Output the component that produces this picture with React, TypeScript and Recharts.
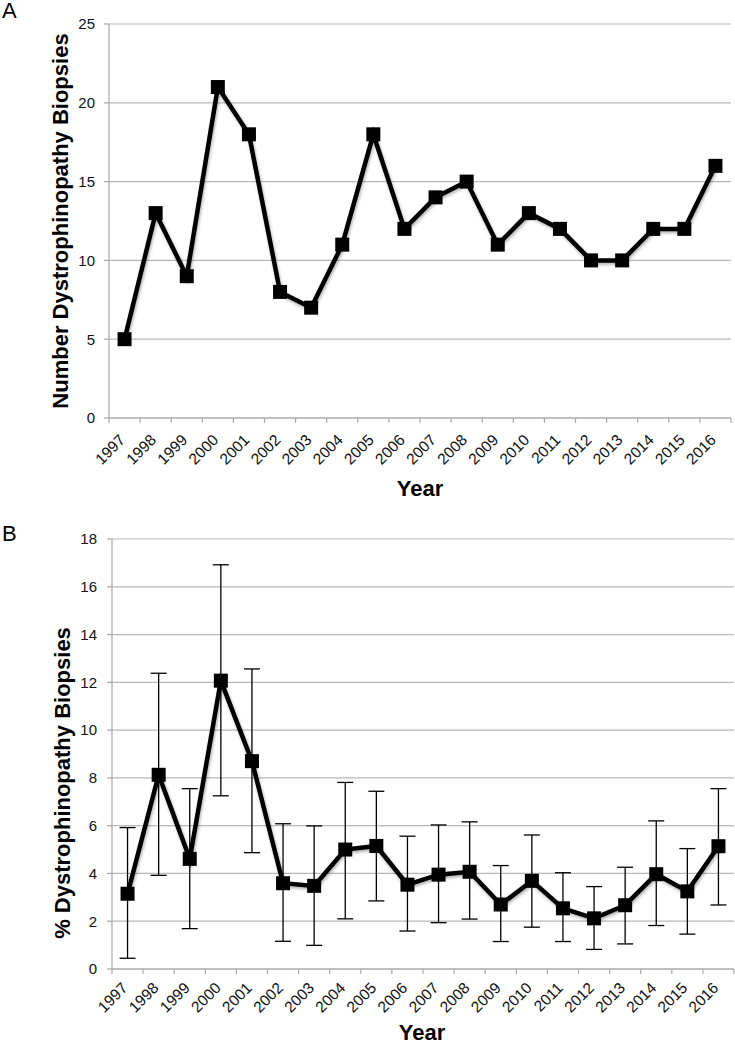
import React from 'react';
import { LineChart, Line, XAxis, YAxis, CartesianGrid, ErrorBar, Label } from 'recharts';

const years = ['1997', '1998', '1999', '2000', '2001', '2002', '2003', '2004', '2005', '2006', '2007', '2008', '2009', '2010', '2011', '2012', '2013', '2014', '2015', '2016'];
const countValues = [5, 13, 9, 21, 18, 8, 7, 11, 18, 12, 14, 15, 11, 13, 12, 10, 10, 12, 12, 16];
const percentValues = [3.15, 8.13, 4.61, 12.07, 8.7, 3.59, 3.48, 5.0, 5.15, 3.53, 3.95, 4.07, 2.7, 3.69, 2.54, 2.12, 2.67, 3.97, 3.25, 5.14];
const percentLow = [0.45, 3.92, 1.69, 7.25, 4.87, 1.16, 0.99, 2.1, 2.85, 1.59, 1.94, 2.09, 1.15, 1.75, 1.15, 0.82, 1.05, 1.82, 1.46, 2.68];
const percentHigh = [5.92, 12.38, 7.55, 16.92, 12.56, 6.08, 5.99, 7.81, 7.44, 5.56, 6.03, 6.16, 4.33, 5.61, 4.03, 3.45, 4.26, 6.2, 5.04, 7.55];
const countTicks = [0, 5, 10, 15, 20, 25];
const percentTicks = [0, 2, 4, 6, 8, 10, 12, 14, 16, 18];

const countData = years.map((y, i) => ({ year: y, value: countValues[i] }));
const percentData = years.map((y, i) => ({
  year: y,
  value: percentValues[i],
  err: [percentValues[i] - percentLow[i], percentHigh[i] - percentValues[i]],
}));

const FONT = '"Liberation Sans", Arial, Helvetica, sans-serif';
const AXIS = '#a8a8a8';
const GRID = '#b8b8b8';

const makeXTick = (dx: number, dy: number) => (props: any) => {
  const { x, y, payload, index } = props;
  const half = payload && payload.offset ? payload.offset : 15.6;
  const last = index === years.length - 1;
  const tx = x + dx;
  const ty = y + dy;
  return (
    <g>
      <line x1={x - half} x2={x - half} y1={y} y2={y + 5} stroke={AXIS} strokeWidth={1.2} />
      {last && <line x1={x + half} x2={x + half} y1={y} y2={y + 5} stroke={AXIS} strokeWidth={1.2} />}
      <text x={tx} y={ty} transform={`rotate(-45 ${tx} ${ty})`} textAnchor="end" fontSize={15.5} fontFamily={FONT} fill="#111">
        {payload.value}
      </text>
    </g>
  );
};

const Square = (p: any) => {
  if (p.cx == null || p.cy == null) return <g key={p.index} />;
  return <rect key={p.index} x={p.cx - 7} y={p.cy - 7} width={14} height={14} fill="#000" />;
};

const yLabel = (text: string, cx: number, cy: number) => () => (
  <text x={cx} y={cy} transform={`rotate(-90 ${cx} ${cy})`} textAnchor="middle" dominantBaseline="central" fontSize={22} fontWeight="bold" fontFamily={FONT} fill="#000">
    {text}
  </text>
);

const xLabel = (cx: number, baseline: number) => () => (
  <text x={cx} y={baseline} textAnchor="middle" fontSize={22} fontWeight="bold" fontFamily={FONT} fill="#000">
    Year
  </text>
);

export default function App() {
  return (
    <div style={{ position: 'absolute', left: 0, top: 0, width: 735, height: 1050, background: '#fff', fontFamily: FONT }}>
      <style>{`.recharts-line { filter: drop-shadow(1.5px 2px 1.5px rgba(0,0,0,0.3)); }`}</style>
      <div style={{ position: 'absolute', left: 2, top: 0, fontSize: 22, lineHeight: '22px', color: '#000' }}>A</div>
      <div style={{ position: 'absolute', left: 2, top: 523, fontSize: 22, lineHeight: '22px', color: '#000' }}>B</div>

      <div style={{ position: 'absolute', left: 0, top: 0 }}>
        <LineChart width={735} height={520} data={countData} margin={{ top: 24, right: 4, left: 49, bottom: 0 }}>
          <CartesianGrid vertical={false} stroke={GRID} strokeWidth={1.2} />
          <XAxis dataKey="year" type="category" scale="band" height={102} tickLine={false} tickSize={0} tickMargin={0} axisLine={{ stroke: AXIS, strokeWidth: 1.2 }} interval={0} tick={makeXTick(1.5, 23)}>
            <Label content={xLabel(420, 496)} />
          </XAxis>
          <YAxis domain={[0, 25]} ticks={countTicks} width={60} tickSize={5} tickMargin={9} tickLine={{ stroke: AXIS, strokeWidth: 1.2 }} axisLine={{ stroke: AXIS, strokeWidth: 1.2 }} tick={{ fontSize: 15, fill: '#111', fontFamily: FONT }}>
            <Label content={yLabel('Number Dystrophinopathy Biopsies', 60, 221)} />
          </YAxis>
          <Line type="linear" dataKey="value" stroke="#000" strokeWidth={4.5} dot={Square} activeDot={false} isAnimationActive={false} />
        </LineChart>
      </div>

      <div style={{ position: 'absolute', left: 0, top: 520 }}>
        <LineChart width={735} height={530} data={percentData} margin={{ top: 19, right: 1, left: 52, bottom: 0 }}>
          <CartesianGrid vertical={false} stroke={GRID} strokeWidth={1.2} />
          <XAxis dataKey="year" type="category" scale="band" height={81} tickLine={false} tickSize={0} tickMargin={0} axisLine={{ stroke: AXIS, strokeWidth: 1.2 }} interval={0} tick={makeXTick(1, 20)}>
            <Label content={xLabel(422, 520)} />
          </XAxis>
          <YAxis domain={[0, 18]} ticks={percentTicks} width={60} tickSize={5} tickMargin={10} tickLine={{ stroke: AXIS, strokeWidth: 1.2 }} axisLine={{ stroke: AXIS, strokeWidth: 1.2 }} tick={{ fontSize: 15, fill: '#111', fontFamily: FONT }}>
            <Label content={yLabel('% Dystrophinopathy Biopsies', 62, 263)} />
          </YAxis>
          <Line type="linear" dataKey="value" stroke="#000" strokeWidth={4.5} dot={Square} activeDot={false} isAnimationActive={false}>
            <ErrorBar dataKey="err" direction="y" width={8} strokeWidth={1.3} stroke="#000" />
          </Line>
        </LineChart>
      </div>
    </div>
  );
}
